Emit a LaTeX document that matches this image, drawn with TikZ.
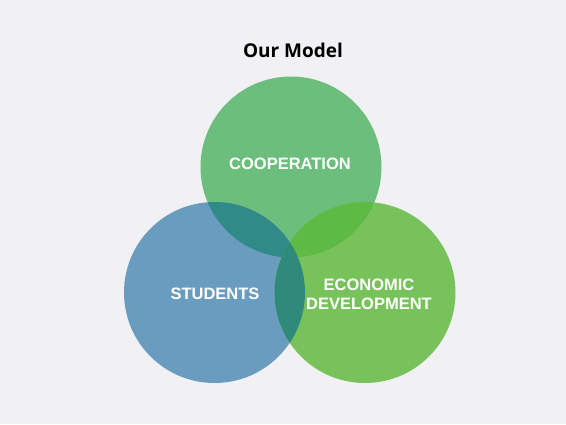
\documentclass[tikz,border=0pt]{standalone}
\usepackage{fontspec}
\newfontfamily\titlefont{Open Sans}
\newfontfamily\labelfont{Liberation Sans}
\usepackage{xcolor}
\definecolor{paper}{HTML}{F1F0F3}
\definecolor{coopgreen}{HTML}{6CBE7C}
\definecolor{stublue}{HTML}{6A9CC0}
\definecolor{econgreen}{HTML}{78C25C}
\definecolor{stucoop}{HTML}{2F8A88}
\definecolor{coopecon}{HTML}{5DBA45}
\definecolor{stuecon}{HTML}{2F8A7A}

\begin{document}
\begin{tikzpicture}[x=1pt,y=-1pt,
    ring/.style={circle,minimum size=181pt,inner sep=0pt},
    tag/.style={font=\labelfont\bfseries\fontsize{16.5}{19}\selectfont,text=white,align=center}]
  % Background
  \fill[paper] (0,0) rectangle (566,424);
  \useasboundingbox (0,0) rectangle (566,424);

  % Title
  \node[font=\titlefont\bfseries\fontsize{19}{22}\selectfont] (title) at (293,50) {Our Model};

  % Circles
  \node[ring,fill=coopgreen] (coop) at (291,167) {};
  \node[ring,fill=stublue] (stu) at (214.5,292.5) {};
  \node[ring,fill=econgreen] (econ) at (365,292.5) {};

  % Overlaps
  \begin{scope}
    \clip (coop.center) circle (90.5);
    \fill[stucoop] (stu.center) circle (90.5);
    \fill[coopecon] (econ.center) circle (90.5);
  \end{scope}
  \begin{scope}
    \clip (stu.center) circle (90.5);
    \fill[stuecon] (econ.center) circle (90.5);
  \end{scope}

  % Labels
  \node[tag] (coopl) at (290,164) {COOPERATION};
  \node[tag] (stul) at (215,294) {STUDENTS};
  \node[tag] (econl) at (369,294) {ECONOMIC\\DEVELOPMENT};
\end{tikzpicture}
\end{document}
